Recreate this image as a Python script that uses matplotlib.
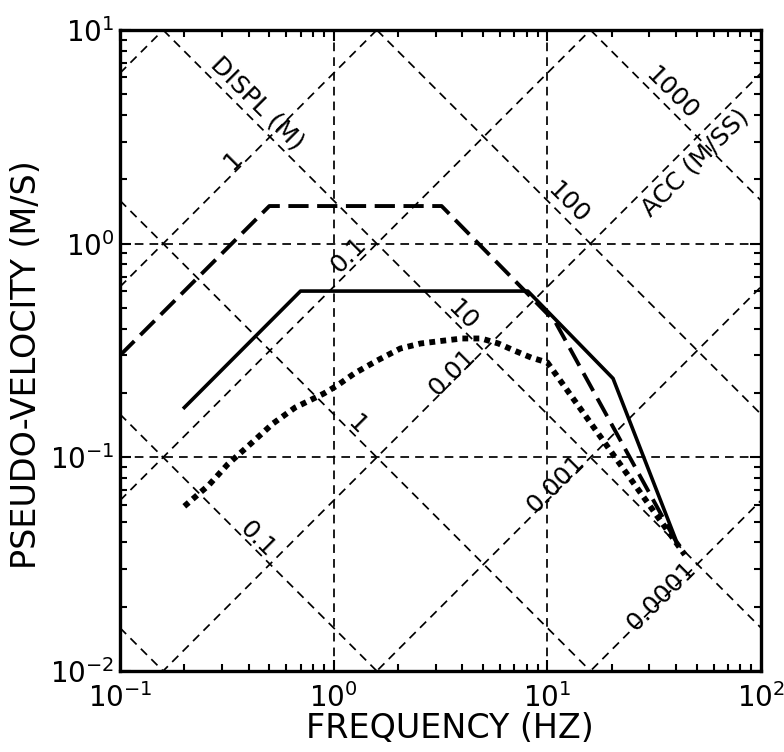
import numpy as np
import matplotlib
matplotlib.use("Agg")
import matplotlib.pyplot as plt
from matplotlib.ticker import LogLocator, NullFormatter

# spectrum curves (frequency in Hz, pseudo-velocity in m/s)
dash_f = [0.1, 0.5, 3.2, 10.9, 42]
dash_v = [0.30, 1.5, 1.5, 0.43, 0.037]

solid_f = [0.2, 0.7, 8.1, 20.3, 40]
solid_v = [0.171, 0.6, 0.6, 0.234, 0.041]

dot_f = [0.2, 0.26, 0.32, 0.41, 0.52, 0.66, 0.9, 1.04, 1.25, 1.6, 2.05, 2.55,
         3.3, 4.0, 4.9, 5.9, 7.0, 8.4, 10, 44]
dot_v = [0.059, 0.074, 0.093, 0.116, 0.144, 0.171, 0.199, 0.217, 0.247, 0.284,
         0.323, 0.341, 0.352, 0.36, 0.36, 0.341, 0.316, 0.293, 0.278, 0.035]

# tripartite grid levels
displ_levels = [10, 1, 0.1, 0.01, 0.001, 0.0001]      # m
acc_levels = [0.01, 0.1, 1, 10, 100, 1000]            # m/s^2

# labels written on the diagonals: (text, f, v)
displ_labels = [("1", 0.339, 2.46), ("0.1", 1.17, 0.881), ("0.01", 3.6, 0.249),
                ("0.001", 10.9, 0.075), ("0.0001", 34.0, 0.0224)]
acc_labels = [("1000", 38.3, 5.07), ("100", 12.5, 1.56), ("10", 4.0, 0.461),
              ("1", 1.28, 0.142), ("0.1", 0.44, 0.0415)]

fig = plt.figure(figsize=(7.84, 7.52), dpi=100)
ax = fig.add_axes([120 / 784, 1 - 671 / 752, 641 / 784, 641 / 752])
ax.set_xscale("log")
ax.set_yscale("log")
ax.set_xlim(0.1, 100)
ax.set_ylim(0.01, 10)

grid_kw = dict(color="black", lw=1.25, dashes=(5, 3.5), zorder=1)
fgrid = np.array([0.1, 100.0])
for d in displ_levels:
    ax.plot(fgrid, 2 * np.pi * fgrid * d, **grid_kw)
for a in acc_levels:
    ax.plot(fgrid, a / (2 * np.pi * fgrid), **grid_kw)
for x in [1, 10]:
    ax.axvline(x, **grid_kw)
for y in [0.1, 1]:
    ax.axhline(y, **grid_kw)

# the three spectra
ax.plot(dash_f, dash_v, color="black", lw=2.8, dashes=(5.2, 2.2), zorder=3)
ax.plot(solid_f, solid_v, color="black", lw=2.6, zorder=3)
ax.plot(dot_f, dot_v, color="black", lw=4.2, dashes=(1.0, 0.9),
        dash_capstyle="butt", zorder=3)

lab_kw = dict(rotation_mode="anchor", ha="center", va="center", fontsize=18,
              zorder=4)
for txt, f, v in displ_labels:
    ax.text(f, v, txt, rotation=45, **lab_kw)
for txt, f, v in acc_labels:
    ax.text(f, v, txt, rotation=-45, **lab_kw)
ax.text(0.44, 4.55, "DISPL (M)", rotation=-45, **lab_kw)
ax.text(49, 2.38, "ACC (M/SS)", rotation=45, **lab_kw)

# axes frame and ticks
for s in ax.spines.values():
    s.set_linewidth(2.4)
ax.xaxis.set_major_locator(LogLocator(base=10, numticks=10))
ax.yaxis.set_major_locator(LogLocator(base=10, numticks=10))
ax.xaxis.set_minor_locator(LogLocator(base=10, subs=np.arange(2, 10), numticks=20))
ax.yaxis.set_minor_locator(LogLocator(base=10, subs=np.arange(2, 10), numticks=20))
ax.xaxis.set_minor_formatter(NullFormatter())
ax.yaxis.set_minor_formatter(NullFormatter())
ax.tick_params(which="both", direction="in", top=True, right=True, width=1.5)
ax.tick_params(which="major", length=8, labelsize=20)
ax.tick_params(which="minor", length=5)
ax.tick_params(axis="x", which="major", pad=9)
ax.tick_params(axis="y", which="major", pad=4)

fig.text(27 / 784, 1 - 365 / 752, "PSEUDO-VELOCITY (M/S)", rotation=90,
         ha="center", va="center", fontsize=24)
fig.text(450 / 784, 1 - 728 / 752, "FREQUENCY (HZ)", ha="center", va="center",
         fontsize=24)

fig.savefig("out.png", dpi=100)
